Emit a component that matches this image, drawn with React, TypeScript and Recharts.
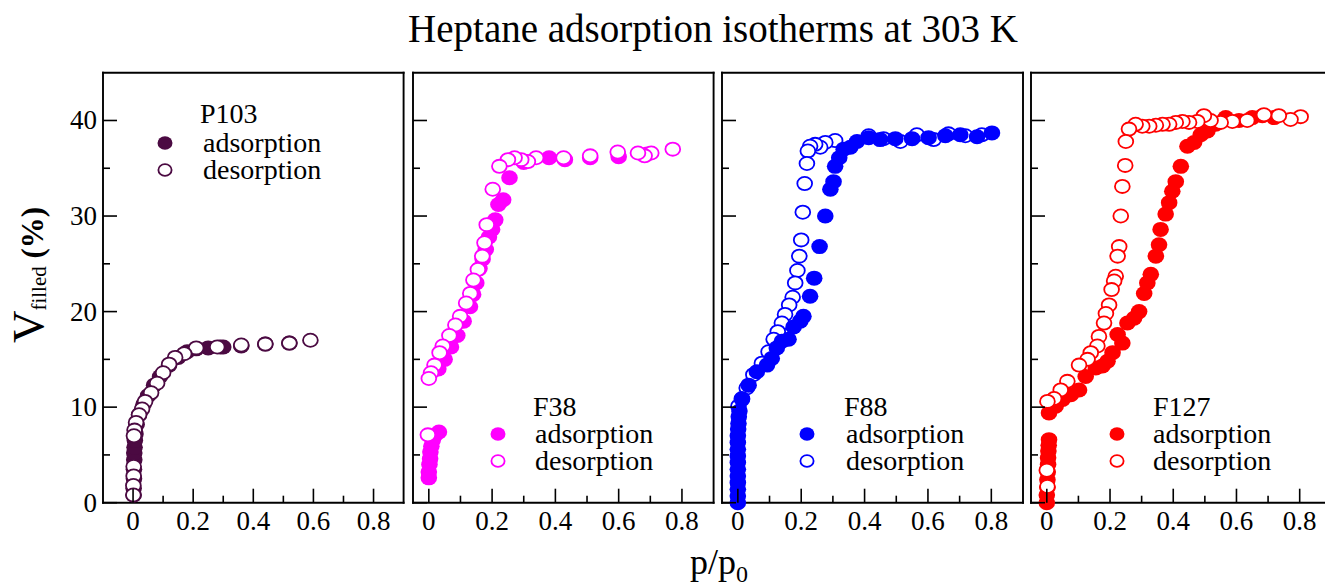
import React from "react"
import { ScatterChart, Scatter, XAxis, YAxis } from "recharts"

// p/p0 , V_filled (%)
const p103Ads: number[][] = [
  [0.002, 0.8], [0.002, 1.5], [0.003, 2.5], [0.003, 3.5], [0.004, 4.5], [0.004, 5.2], [0.005, 5.8],
  [0.006, 6.5], [0.008, 7.2], [0.012, 8.2], [0.02, 9.2], [0.035, 10.3], [0.05, 11.2], [0.07, 12.3],
  [0.09, 13.2], [0.12, 14.4], [0.15, 15.2], [0.18, 15.8], [0.21, 16.1], [0.25, 16.2], [0.29, 16.3],
  [0.3, 16.3], [0.36, 16.4], [0.44, 16.6], [0.52, 16.7],
]
const p103Des: number[][] = [
  [0.59, 17.0], [0.52, 16.7], [0.44, 16.6], [0.36, 16.5], [0.28, 16.3], [0.21, 16.2], [0.17, 15.6],
  [0.14, 15.2], [0.12, 14.5], [0.1, 13.6], [0.08, 12.5], [0.06, 11.5], [0.04, 10.6], [0.03, 9.8],
  [0.02, 9.2], [0.01, 8.4], [0.005, 7.6], [0.003, 7.0], [0.002, 3.8], [0.002, 2.8], [0.001, 1.8],
  [0.001, 0.8],
]

const f38Ads: number[][] = [
  [0.0, 2.6], [0.0, 3.2], [0.002, 4.0], [0.004, 4.6], [0.005, 5.3], [0.008, 5.9], [0.012, 6.5],
  [0.018, 7.0], [0.032, 7.4], [0.03, 14.0], [0.05, 15.0], [0.07, 16.3], [0.09, 17.5], [0.11, 19.0],
  [0.13, 20.5], [0.14, 21.8], [0.15, 23.0], [0.16, 24.5], [0.17, 25.5], [0.18, 26.5], [0.19, 27.8],
  [0.2, 28.6], [0.21, 29.6], [0.22, 31.2], [0.235, 31.7], [0.255, 34.0], [0.3, 35.6], [0.38, 36.1],
  [0.43, 35.9], [0.51, 36.1], [0.6, 36.2], [0.69, 36.5],
]
const f38Des: number[][] = [
  [0.771, 37.0], [0.703, 36.6], [0.682, 36.3], [0.661, 36.6], [0.597, 36.7], [0.51, 36.3],
  [0.426, 36.1], [0.339, 36.1], [0.313, 35.7], [0.292, 35.9], [0.271, 36.1], [0.25, 35.9],
  [0.223, 35.2], [0.202, 32.8], [0.183, 29.1], [0.176, 27.2], [0.169, 25.8], [0.155, 24.4],
  [0.141, 23.3], [0.131, 21.9], [0.118, 20.9], [0.099, 19.5], [0.084, 18.6], [0.065, 17.5],
  [0.044, 16.4], [0.034, 15.7], [0.018, 14.4], [0.007, 13.6], [0.0, 13.0], [-0.003, 7.1],
]

const f88Ads: number[][] = [
  [0, 0], [0, 0.7], [0, 1.4], [0, 2.1], [0, 2.8], [0, 3.5], [0, 4.2], [0, 4.9], [0, 5.6], [0, 6.3],
  [0, 7.0], [0.001, 7.7], [0.002, 8.3], [0.003, 9.0], [0.005, 9.6], [0.013, 10.8], [0.034, 12.3],
  [0.06, 13.7], [0.092, 14.4], [0.107, 15.1], [0.123, 16.2], [0.139, 16.9], [0.16, 17.1],
  [0.176, 18.4], [0.197, 19.0], [0.207, 19.5], [0.228, 21.6], [0.241, 23.5], [0.258, 26.8],
  [0.276, 30.0], [0.292, 32.8], [0.302, 33.6], [0.307, 35.2], [0.32, 36.1], [0.334, 37.0],
  [0.355, 37.2], [0.376, 37.8], [0.413, 38.2], [0.449, 38.0], [0.497, 38.1], [0.55, 38.1],
  [0.602, 38.2], [0.655, 38.4], [0.702, 38.5], [0.755, 38.3], [0.802, 38.7],
]
const f88Des: number[][] = [
  [0.77, 38.5], [0.718, 38.4], [0.665, 38.6], [0.618, 38.0], [0.565, 38.5], [0.513, 37.8],
  [0.46, 38.1], [0.413, 38.4], [0.307, 37.9], [0.276, 37.7], [0.26, 37.2], [0.244, 37.5],
  [0.228, 37.3], [0.221, 36.8], [0.218, 35.5], [0.211, 33.4], [0.205, 30.4], [0.2, 27.5],
  [0.194, 25.8], [0.188, 24.3], [0.181, 23.0], [0.173, 21.5], [0.162, 20.7], [0.149, 19.7],
  [0.139, 18.8], [0.126, 17.9], [0.113, 17.1], [0.097, 15.8], [0.076, 14.6], [0.049, 13.4],
  [0.028, 12.0], [0.013, 10.9], [0.002, 10.1],
]

const f127Ads: number[][] = [
  [0, 0], [0, 0.8], [0.002, 1.6], [0.002, 2.4], [0.003, 3.2], [0.004, 4.0], [0.004, 4.7],
  [0.005, 5.4], [0.006, 6.0], [0.007, 6.6], [0.007, 9.4], [0.028, 10.1], [0.05, 10.8],
  [0.076, 11.3], [0.102, 11.8], [0.123, 13.2], [0.155, 14.1], [0.176, 14.3], [0.192, 14.8],
  [0.208, 15.7], [0.224, 17.6], [0.239, 16.7], [0.255, 18.8], [0.276, 19.3], [0.292, 20.0],
  [0.308, 21.9], [0.318, 23.0], [0.329, 23.9], [0.345, 25.8], [0.355, 27.0], [0.36, 28.6],
  [0.376, 30.2], [0.387, 31.4], [0.397, 32.6], [0.408, 33.6], [0.424, 35.2], [0.445, 37.3],
  [0.466, 37.7], [0.487, 38.5], [0.508, 38.9], [0.534, 39.6], [0.566, 40.3], [0.608, 40.0],
  [0.65, 40.3], [0.682, 40.5], [0.719, 40.3],
]
const f127Des: number[][] = [
  [0.803, 40.4], [0.771, 40.1], [0.734, 40.5], [0.687, 40.6], [0.634, 40.0], [0.587, 39.9],
  [0.55, 39.8], [0.518, 40.0], [0.497, 40.5], [0.476, 39.9], [0.45, 39.8], [0.429, 39.9],
  [0.408, 39.8], [0.387, 39.6], [0.366, 39.6], [0.345, 39.5], [0.324, 39.4], [0.302, 39.4],
  [0.281, 39.6], [0.26, 39.1], [0.25, 37.8], [0.248, 35.3], [0.239, 33.1], [0.234, 30.0],
  [0.229, 26.8], [0.224, 25.8], [0.218, 23.7], [0.213, 23.2], [0.205, 22.3], [0.197, 20.7],
  [0.187, 19.8], [0.181, 18.8], [0.165, 17.4], [0.16, 16.4], [0.139, 15.7], [0.129, 15.0],
  [0.102, 14.4], [0.065, 12.7], [0.044, 11.8], [0.023, 10.9], [0.002, 10.6], [0.002, 1.7],
  [0.0, 3.4],
]

const xTicks = [0, 0.1, 0.2, 0.3, 0.4, 0.5, 0.6, 0.7, 0.8]
const yTicks = [0, 5, 10, 15, 20, 25, 30, 35, 40]

const FONT = "Liberation Serif, Times New Roman, serif"
const PLOT_TOP = 72.7
const PLOT_BOTTOM = 502.7
const H = 587

const panels = [
  { name: "P103", color: "#4B0A42", left: 102.7, width: 300.6, domain: [-0.1, 0.9], ads: p103Ads, des: p103Des, yLabels: true, adsOnTop: false },
  { name: "F38", color: "#FF00FF", left: 412.7, width: 300.6, domain: [-0.05, 0.9], ads: f38Ads, des: f38Des, yLabels: false, adsOnTop: false },
  { name: "F88", color: "#0000FF", left: 722.3, width: 301, domain: [-0.05, 0.9], ads: f88Ads, des: f88Des, yLabels: false, adsOnTop: true },
  { name: "F127", color: "#FF0000", left: 1031, width: 300.3, domain: [-0.05, 0.9], ads: f127Ads, des: f127Des, yLabels: false, adsOnTop: false },
]

// legend spots per panel: [title x, title baseline, marker x, text x, first row baseline]
const legendPos = [
  [200, 123, 165, 203, 152],
  [533, 416, 498, 535, 443],
  [844, 416, 807, 846, 443],
  [1153, 416, 1117, 1153, 443],
]

const toPoints = (arr: number[][]) => arr.map(([x, y]) => ({ x, y }))

const XTick = (props: any) => {
  const { x, y, payload, side } = props
  const v = payload.value
  const major = Math.round(v * 10) % 2 === 0
  const len = major ? 14 : 7
  const dir = side === "bottom" ? -1 : 1
  return (
    <g>
      <line x1={x} y1={y} x2={x} y2={y + dir * len} stroke="#000" strokeWidth={1.6} />
      {side === "bottom" && major && (
        <text x={x} y={y + 27} textAnchor="middle" fontSize={27} fontFamily={FONT} fill="#000">
          {v === 0 ? "0" : v.toFixed(1)}
        </text>
      )}
    </g>
  )
}

const YTick = (props: any) => {
  const { x, y, payload, side, showLabel } = props
  const v = payload.value
  const major = Math.round(v) % 10 === 0
  const len = major ? 14 : 7
  const dir = side === "left" ? 1 : -1
  return (
    <g>
      <line x1={x} y1={y} x2={x + dir * len} y2={y} stroke="#000" strokeWidth={1.6} />
      {side === "left" && showLabel && major && (
        <text x={x - 6} y={y + 9} textAnchor="end" fontSize={27} fontFamily={FONT} fill="#000">
          {String(v)}
        </text>
      )}
    </g>
  )
}

const dot = (color: string, filled: boolean) => (p: any) =>
  filled ? (
    <ellipse cx={p.cx} cy={p.cy} rx={8.3} ry={7.5} fill={color} />
  ) : (
    <ellipse cx={p.cx} cy={p.cy} rx={7.4} ry={6.6} fill="#fff" stroke={color} strokeWidth={1.8} />
  )

const axisLine = { stroke: "#000", strokeWidth: 1.9, strokeLinecap: "square" as const }

function Panel({ p }: { p: (typeof panels)[number] }) {
  const ML = p.yLabels ? 100 : 20
  const MR = 12
  const ads = (
    <Scatter key="a" xAxisId="b" yAxisId="l" data={toPoints(p.ads)} shape={dot(p.color, true)} isAnimationActive={false} />
  )
  const des = (
    <Scatter key="d" xAxisId="b" yAxisId="l" data={toPoints(p.des)} shape={dot(p.color, false)} isAnimationActive={false} />
  )
  // each axis keeps 1px of room, so margins shrink by 1
  return (
    <div style={{ position: "absolute", left: p.left - ML, top: 0 }}>
      <ScatterChart
        width={p.width + ML + MR}
        height={H}
        margin={{ top: PLOT_TOP - 1, bottom: H - PLOT_BOTTOM - 1, left: ML - 1, right: MR - 1 }}
      >
        <XAxis xAxisId="b" type="number" dataKey="x" domain={p.domain} ticks={xTicks} interval={0}
          height={1} tickSize={0} tickMargin={0} tickLine={false} axisLine={axisLine}
          tick={(t: any) => <XTick {...t} side="bottom" />} />
        <XAxis xAxisId="t" orientation="top" type="number" dataKey="x" domain={p.domain} ticks={xTicks} interval={0}
          height={1} tickSize={0} tickMargin={0} tickLine={false} axisLine={axisLine}
          tick={(t: any) => <XTick {...t} side="top" />} />
        <YAxis yAxisId="l" type="number" dataKey="y" domain={[0, 45]} ticks={yTicks} interval={0}
          width={1} tickSize={0} tickMargin={0} tickLine={false} axisLine={axisLine}
          tick={(t: any) => <YTick {...t} side="left" showLabel={p.yLabels} />} />
        <YAxis yAxisId="r" orientation="right" type="number" dataKey="y" domain={[0, 45]} ticks={yTicks} interval={0}
          width={1} tickSize={0} tickMargin={0} tickLine={false} axisLine={axisLine}
          tick={(t: any) => <YTick {...t} side="right" />} />
        {p.adsOnTop ? [des, ads] : [ads, des]}
      </ScatterChart>
    </div>
  )
}

export default function App() {
  return (
    <div style={{ position: "absolute", left: 0, top: 0, width: 1325, height: H, overflow: "hidden", background: "#fff", fontFamily: FONT }}>
      {panels.map((p) => (
        <Panel key={p.name} p={p} />
      ))}
      <svg width={1325} height={H} style={{ position: "absolute", left: 0, top: 0, pointerEvents: "none" }}>
        <text x={713} y={42} textAnchor="middle" fontSize={39} fontFamily={FONT} fill="#000">
          Heptane adsorption isotherms at 303 K
        </text>
        <text x={690} y={574} fontSize={36} fontFamily={FONT} fill="#000">
          p/p<tspan fontSize={24} dy={8}>0</tspan>
        </text>
        <text transform="translate(43,275) rotate(-90)" textAnchor="middle" fontFamily={FONT} fill="#000">
          <tspan fontSize={45}>V</tspan>
          <tspan fontSize={21} dy={3}>filled</tspan>
          <tspan fontSize={31} dy={-3} fontWeight="bold"> (%)</tspan>
        </text>
        {panels.map((p, i) => {
          const [tx, ty, mx, lx, ly] = legendPos[i]
          return (
            <g key={p.name} fill="#000">
              <text x={tx} y={ty} fontSize={28} fontFamily={FONT}>{p.name}</text>
              <ellipse cx={mx} cy={ly - 9} rx={7.5} ry={6.7} fill={p.color} />
              <text x={lx} y={ly} fontSize={28} fontFamily={FONT}>adsorption</text>
              <ellipse cx={mx} cy={ly + 18} rx={6.6} ry={5.8} fill="#fff" stroke={p.color} strokeWidth={1.8} />
              <text x={lx} y={ly + 27} fontSize={28} fontFamily={FONT}>desorption</text>
            </g>
          )
        })}
      </svg>
    </div>
  )
}
